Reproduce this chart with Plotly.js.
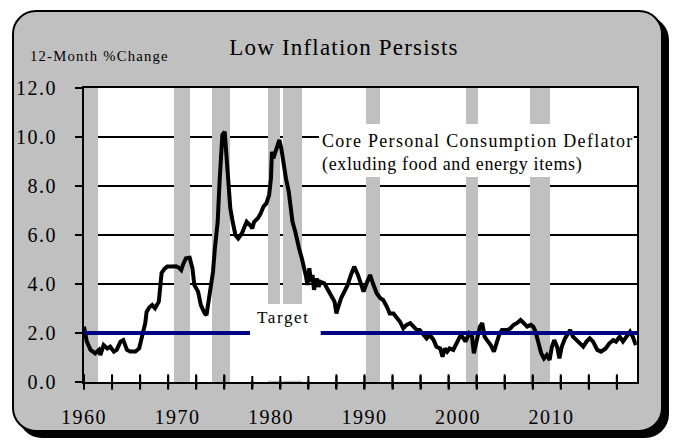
<!DOCTYPE html>
<html><head><meta charset="utf-8">
<script src="https://cdn.plot.ly/plotly-3.0.1.min.js"></script>
<style>
html,body{margin:0;padding:0;background:#fff;}
#wrap{position:relative;width:675px;height:443px;overflow:hidden;}
#card{position:absolute;left:12px;top:10px;width:647px;height:418px;background:#c0c0c0;border:2px solid #000;border-radius:24px;box-shadow:6px 6px 0 #000;}
#chart{position:absolute;left:0;top:0;width:675px;height:443px;}
.xtick text,.ytick text{letter-spacing:1.5px;}
.gtitle{letter-spacing:1.2px;}
.annotation-text{letter-spacing:0.65px;}
</style></head>
<body>
<div id="wrap"><div id="card"></div><div id="chart"></div></div>
<script>
// Core PCE deflator, 12-month % change
const years = [1960.0,1960.3,1960.7,1961.2,1961.6,1961.75,1962.1,1962.5,1962.8,1963.2,1963.5,1963.9,1964.2,1964.6,1964.95,1965.5,1965.9,1966.2,1966.55,1966.7,1967.0,1967.3,1967.6,1968.0,1968.2,1968.3,1968.6,1968.9,1969.4,1969.85,1970.1,1970.4,1970.6,1970.9,1971.3,1971.6,1971.8,1972.2,1972.5,1972.9,1973.1,1973.4,1973.8,1974.0,1974.3,1974.5,1974.65,1974.8,1975.05,1975.25,1975.4,1975.5,1975.65,1975.9,1976.2,1976.5,1976.9,1977.1,1977.4,1977.75,1978.0,1978.2,1978.6,1978.9,1979.2,1979.5,1979.8,1980.0,1980.1,1980.25,1980.45,1980.7,1980.9,1981.1,1981.25,1981.4,1981.6,1981.9,1982.1,1982.3,1982.6,1982.85,1983.0,1983.3,1983.6,1983.75,1983.9,1984.1,1984.3,1984.45,1984.6,1984.9,1985.1,1985.3,1985.7,1986.05,1986.4,1986.8,1987.0,1987.2,1987.5,1987.85,1988.2,1988.55,1988.9,1989.3,1989.6,1989.9,1990.3,1990.6,1990.9,1991.3,1991.7,1992.0,1992.4,1992.7,1993.1,1993.4,1993.8,1994.15,1994.5,1994.9,1995.2,1995.6,1995.9,1996.3,1996.65,1997.0,1997.4,1997.7,1998.1,1998.35,1998.6,1998.85,1999.1,1999.5,1999.9,2000.3,2000.6,2000.8,2001.2,2001.5,2001.7,2002.05,2002.35,2002.6,2002.85,2003.1,2003.5,2003.85,2004.1,2004.4,2004.7,2005.3,2005.6,2005.95,2006.3,2006.7,2007.05,2007.4,2007.8,2008.05,2008.3,2008.65,2008.9,2009.2,2009.5,2009.8,2010.05,2010.3,2010.6,2010.85,2011.1,2011.45,2011.75,2012.0,2012.3,2012.65,2013.0,2013.4,2013.75,2014.1,2014.45,2014.9,2015.3,2015.8,2016.2,2016.6,2016.9,2017.3,2017.65,2018.0,2018.4,2018.7,2018.95,2019.1];
const corePCE = [2.26,1.65,1.31,1.17,1.31,1.10,1.51,1.37,1.44,1.24,1.31,1.65,1.71,1.31,1.24,1.24,1.37,1.85,2.40,2.87,3.05,3.14,3.01,3.28,4.03,4.45,4.62,4.71,4.71,4.72,4.68,4.57,4.80,5.05,5.07,4.64,3.96,3.69,3.14,2.80,2.73,3.42,4.50,5.46,6.54,8.18,9.27,10.08,10.22,9.27,8.60,8.18,7.09,6.54,6.00,5.86,6.07,6.27,6.54,6.41,6.27,6.54,6.68,6.88,7.16,7.29,7.63,8.31,9.40,9.13,9.40,9.74,9.88,9.54,9.13,8.65,8.31,7.77,7.09,6.54,6.13,5.80,5.46,5.05,4.64,4.30,3.96,4.64,4.09,4.37,3.76,4.23,3.89,4.09,4.03,3.82,3.55,3.28,2.80,3.07,3.42,3.69,3.96,4.37,4.71,4.37,4.03,3.69,4.10,4.37,4.03,3.62,3.42,3.35,3.07,2.80,2.80,2.67,2.46,2.19,2.33,2.40,2.26,2.12,2.12,1.92,1.78,1.92,1.71,1.44,1.37,1.03,1.37,1.24,1.37,1.31,1.65,1.92,1.78,1.65,1.98,1.85,1.17,1.71,2.26,2.40,1.85,1.71,1.51,1.24,1.51,1.92,2.12,2.12,2.19,2.33,2.40,2.53,2.40,2.26,2.33,2.26,2.05,1.58,1.17,0.96,1.10,0.90,1.44,1.71,1.44,0.96,1.44,1.78,1.98,2.12,1.85,1.71,1.58,1.44,1.65,1.78,1.65,1.31,1.24,1.37,1.58,1.71,1.65,1.85,1.65,1.85,2.05,1.85,1.58,1.60];

// Recession shading (start / end, decimal years)
const recessionStart = [1960.0, 1969.63, 1973.69, 1979.73, 1981.24, 1990.16, 2000.89, 2007.7];
const recessionEnd   = [1961.46, 1971.33, 1975.6, 1980.96, 1983.3, 1991.66, 2002.14, 2009.82];

// Fed target
const targetRate = 2.0;

// Axis ticks
const decadeTicks = [1960, 1970, 1980, 1990, 2000, 2010];
const decadeLabels = ['1960', '1970', '1980', '1990', '2000', '2010'];
const minorTicks = [1960,1963,1966,1969,1972,1975,1978,1981,1984,1987,1990,1993,1996,1999,2002,2005,2008,2011,2014,2017];
const xRange = [1960, 2019.15];
const yMax = 12;

const recMid = recessionStart.map((s, i) => (s + recessionEnd[i]) / 2);
const recWidth = recessionStart.map((s, i) => recessionEnd[i] - s);

const traces = [
  {type: 'bar', x: recMid, y: recessionStart.map(() => yMax), width: recWidth, base: 0,
   marker: {color: '#c0c0c0', line: {width: 0}}, hoverinfo: 'skip'},
  {type: 'scatter', mode: 'lines', x: years, y: corePCE,
   line: {color: '#000', width: 4}, hoverinfo: 'skip'},
  {type: 'scatter', mode: 'lines', x: xRange, y: [targetRate, targetRate],
   line: {color: '#000080', width: 4}, hoverinfo: 'skip'},
  // crossing tick marks on the time axis (every 3 years)
  {type: 'scatter', mode: 'markers', x: minorTicks, y: minorTicks.map(() => 0), cliponaxis: false,
   marker: {symbol: 'line-ns-open', size: 11, color: '#000', line: {color: '#000', width: 2}}, hoverinfo: 'skip'}
];

// white label boxes (drawn above bars, grid and target line)
const boxShapes = [
  {type: 'rect', layer: 'above', xref: 'paper', yref: 'paper', x0: 0.425, x1: 0.994, y0: 0.697, y1: 0.8776,
   fillcolor: '#fff', line: {width: 0}},
  {type: 'rect', layer: 'above', xref: 'paper', yref: 'paper', x0: 0.3002, x1: 0.428, y0: 0.004, y1: 0.2653,
   fillcolor: '#fff', line: {width: 0}}
];
// same tick marks as shapes, positioned on the x range
const tickShapes = minorTicks.map(t => {
  const p = (t - xRange[0]) / (xRange[1] - xRange[0]);
  return {type: 'line', layer: 'above', xref: 'paper', yref: 'paper', ysizemode: 'pixel', yanchor: 0,
          x0: p, x1: p, y0: -5, y1: 6, line: {color: '#000', width: 2}};
});

const serif = '"Liberation Serif", "Times New Roman", serif';
const layout = {
  width: 675, height: 443,
  margin: {l: 84, r: 38, t: 88, b: 61, pad: 0},
  paper_bgcolor: 'rgba(0,0,0,0)', plot_bgcolor: '#fff',
  showlegend: false, barmode: 'overlay', bargap: 0,
  font: {family: serif, color: '#000'},
  title: {text: 'Low Inflation Persists', font: {family: serif, size: 23, color: '#000'},
    xref: 'container', yref: 'container', x: 0.5096, xanchor: 'center', y: 0.8935, yanchor: 'middle'},
  xaxis: {range: xRange, tickvals: decadeTicks, ticktext: decadeLabels, ticks: '', ticklen: 0,
    minor: {tickvals: minorTicks, ticks: 'outside', ticklen: 5, tickwidth: 2, tickcolor: '#000', showgrid: false},
    showgrid: false, zeroline: false, showline: true, linecolor: '#000', linewidth: 2, mirror: true,
    tickfont: {family: serif, size: 20, color: '#000'}, ticklabelstandoff: 16},
  yaxis: {range: [0, yMax], tick0: 0, dtick: 2, tickformat: '.1f', ticks: 'outside', ticklen: 7, tickwidth: 2,
    tickcolor: '#000', showgrid: true, gridcolor: '#000', gridwidth: 1.3, zeroline: false,
    showline: true, linecolor: '#000', linewidth: 2, mirror: true,
    tickfont: {family: serif, size: 20, color: '#000'}, ticklabelstandoff: 14},
  shapes: boxShapes.concat(tickShapes),
  annotations: [
    {text: '<span style="letter-spacing:1.2px">12-Month %Change</span>', xref: 'paper', yref: 'paper',
     x: -0.1013, y: 1.109, xanchor: 'left', yanchor: 'middle',
     showarrow: false, font: {family: serif, size: 14.7, color: '#000'}},
    {text: '<span style="letter-spacing:1.3px">Core Personal Consumption Deflator</span><br>(exluding food and energy items)',
     xref: 'paper', yref: 'paper',
     x: 0.4295, y: 0.7806, xanchor: 'left', yanchor: 'middle', align: 'left', borderpad: 0, borderwidth: 0,
     showarrow: false, font: {family: serif, size: 18, color: '#000'}},
    {text: '<span style="letter-spacing:1.6px">Target</span>', xref: 'paper', yref: 'paper',
     x: 0.359, y: 0.2194, xanchor: 'center', yanchor: 'middle',
     borderpad: 0, borderwidth: 0, showarrow: false, font: {family: serif, size: 17, color: '#000'}}
  ]
};

Plotly.newPlot('chart', traces, layout, {staticPlot: true, displayModeBar: false});
</script>
</body></html>
